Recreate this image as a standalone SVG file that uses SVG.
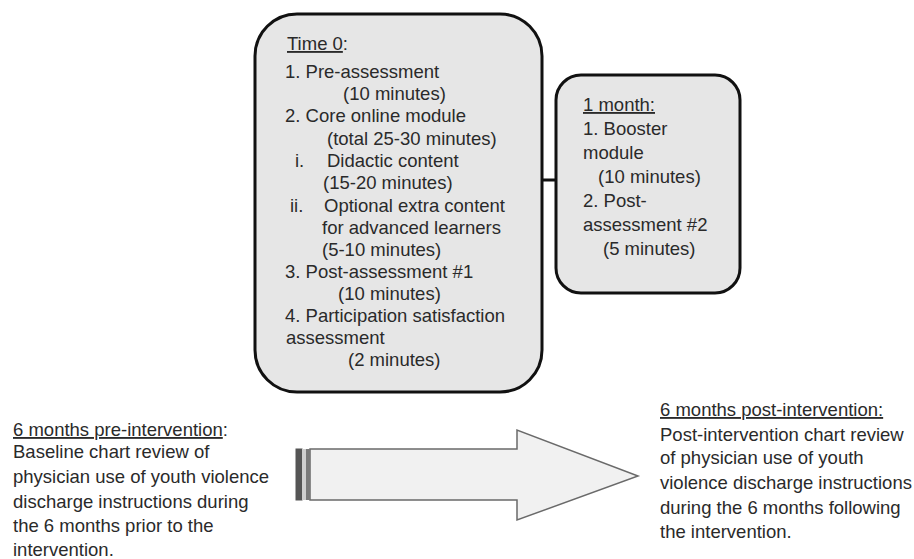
<svg xmlns="http://www.w3.org/2000/svg" width="914" height="559" viewBox="0 0 914 559">
<style>
.box{fill:#e6e6e6;stroke:#111;stroke-width:3}
.t{font-family:"Liberation Sans",Arial,sans-serif;font-size:18.5px;fill:#2a2a2a}
.u{text-decoration:underline}
.conn{stroke:#111;stroke-width:3;fill:none}
.arrow{fill:#f1f1f1;stroke:#6a6a6a;stroke-width:1.5}
</style>
<rect width="914" height="559" fill="#ffffff"/>
<g id="connectors">
<line class="conn" x1="542" y1="180" x2="556" y2="180"/>
</g>
<g id="time0">
<rect class="box" x="255" y="14" width="287" height="378" rx="42" ry="42"/>
<text class="t"><tspan x="287" y="50" class="u">Time 0</tspan><tspan>:</tspan></text>
<text class="t" x="285" y="78">1. Pre-assessment</text>
<text class="t" x="343" y="100">(10 minutes)</text>
<text class="t" x="285" y="122">2. Core online module</text>
<text class="t" x="327" y="145">(total 25-30 minutes)</text>
<text class="t" x="295" y="167">i.</text>
<text class="t" x="327" y="167">Didactic content</text>
<text class="t" x="323" y="189">(15-20 minutes)</text>
<text class="t" x="290" y="212">ii.</text>
<text class="t" x="324" y="212">Optional extra content</text>
<text class="t" x="322" y="234">for advanced learners</text>
<text class="t" x="322" y="256">(5-10 minutes)</text>
<text class="t" x="285" y="278">3. Post-assessment #1</text>
<text class="t" x="338" y="300">(10 minutes)</text>
<text class="t" x="285" y="322">4. Participation satisfaction</text>
<text class="t" x="286" y="344">assessment</text>
<text class="t" x="348" y="366">(2 minutes)</text>
</g>
<g id="month1">
<rect class="box" x="556" y="75" width="184" height="218" rx="25" ry="25"/>
<text class="t u" x="583" y="111">1 month:</text>
<text class="t" x="583" y="135">1. Booster</text>
<text class="t" x="583" y="159">module</text>
<text class="t" x="598" y="183">(10 minutes)</text>
<text class="t" x="583" y="207">2.  Post-</text>
<text class="t" x="583" y="231">assessment #2</text>
<text class="t" x="603" y="255">(5 minutes)</text>
</g>
<g id="arrow">
<path class="arrow" d="M310,449 L517,449 L517,430 L638,476 L517,520 L517,500 L310,500 Z"/>
<rect x="296" y="449" width="6" height="51" fill="#555" stroke="#555" stroke-width="1"/>
<rect x="302" y="449" width="4" height="51" fill="#cfcfcf"/>
<rect x="306" y="449" width="4" height="51" fill="#7a7a7a"/>
</g>
<g id="pre">
<text class="t"><tspan x="13" y="436" class="u">6 months pre-intervention</tspan><tspan>:</tspan></text>
<text class="t" x="13" y="458">Baseline chart review of</text>
<text class="t" x="13" y="483">physician use of youth violence</text>
<text class="t" x="13" y="508">discharge instructions during</text>
<text class="t" x="13" y="532">the 6 months prior to the</text>
<text class="t" x="13" y="556">intervention.</text>
</g>
<g id="post">
<text class="t u" x="660" y="416">6 months post-intervention:</text>
<text class="t" x="660" y="441">Post-intervention chart review</text>
<text class="t" x="660" y="464">of physician use of youth</text>
<text class="t" x="660" y="489">violence discharge instructions</text>
<text class="t" x="660" y="514">during the 6 months following</text>
<text class="t" x="660" y="538">the intervention.</text>
</g>
</svg>
